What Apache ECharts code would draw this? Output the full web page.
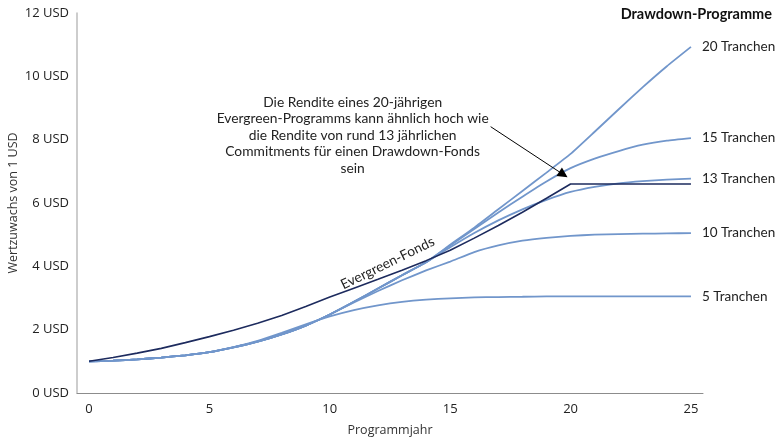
<!DOCTYPE html>
<html>
<head>
<meta charset="utf-8">
<script src="https://cdn.jsdelivr.net/npm/echarts@6/dist/echarts.min.js"></script>
<style>html,body{margin:0;padding:0;background:#fff}#c{width:780px;height:440px}</style>
</head>
<body>
<div id="c"></div>
<script>
const years = [0,1,2,3,4,5,6,7,8,9,10,11,12,13,14,15,16,17,18,19,20,21,22,23,24,25];
const evergreen = [1.00,1.12,1.26,1.41,1.59,1.78,1.98,2.20,2.45,2.73,3.03,3.31,3.59,3.88,4.18,4.51,4.89,5.29,5.71,6.15,6.60,6.60,6.60,6.60,6.60,6.60];
const t5  = [1.00,1.02,1.06,1.12,1.19,1.29,1.45,1.65,1.90,2.17,2.42,2.62,2.77,2.88,2.95,2.99,3.02,3.03,3.04,3.05,3.05,3.05,3.05,3.05,3.05,3.05];
const t10 = [1.00,1.02,1.06,1.12,1.19,1.29,1.44,1.62,1.85,2.13,2.48,2.86,3.22,3.56,3.87,4.15,4.45,4.66,4.81,4.90,4.96,5.00,5.02,5.03,5.04,5.05];
const t13 = [1.00,1.02,1.06,1.12,1.19,1.29,1.44,1.62,1.85,2.13,2.48,2.88,3.30,3.72,4.13,4.60,5.05,5.45,5.80,6.10,6.35,6.51,6.62,6.69,6.74,6.77];
const t15 = [1.00,1.02,1.06,1.12,1.19,1.29,1.44,1.62,1.85,2.13,2.48,2.88,3.30,3.72,4.13,4.66,5.18,5.70,6.20,6.68,7.10,7.40,7.64,7.84,7.97,8.05];
const t20 = [1.00,1.02,1.06,1.12,1.19,1.29,1.44,1.62,1.85,2.13,2.48,2.88,3.30,3.72,4.13,4.68,5.22,5.80,6.38,6.96,7.55,8.25,8.96,9.66,10.32,10.93];
const xTicks = [0,5,10,15,20,25];
const tranchen = [
  {name:'5 Tranchen', data:t5},
  {name:'10 Tranchen', data:t10},
  {name:'13 Tranchen', data:t13},
  {name:'15 Tranchen', data:t15},
  {name:'20 Tranchen', data:t20}
];
const titleText = 'Drawdown-Programme';
const noteText = 'Die Rendite eines 20-jährigen\nEvergreen-Programms kann ähnlich hoch wie\ndie Rendite von rund 13 jährlichen\nCommitments für einen Drawdown-Fonds\nsein';
const noteAt = [10.95, 8.14];
const arrowFrom = [16.68, 8.41];
const arrowTo = [19.70, 6.90];
const evergreenLabelAt = [12.4, 4.1];

const pair = arr => years.map((y,i)=>[y,arr[i]]);
const LIGHT = '#7196cb';
const NAVY = '#1d2b5e';
const textFont = 'Lato';
const axisFont = 'Open Sans';

const series = tranchen.map(t => ({
  name: t.name, type:'line', data: pair(t.data), showSymbol:false, smooth:0.15,
  lineStyle:{color:LIGHT, width:1.8}, itemStyle:{color:LIGHT},
  endLabel:{show:true, formatter:t.name, distance:11, color:'#222', fontFamily:textFont, fontSize:13.5},
  z:2
}));
series.push({
  name:'Evergreen-Fonds', type:'line', data: pair(evergreen), showSymbol:false,
  lineStyle:{color:NAVY, width:1.6}, itemStyle:{color:NAVY}, z:3,
  markLine:{
    silent:true, symbol:['none','triangle'], symbolSize:10,
    itemStyle:{color:'#000'},
    lineStyle:{color:'#000', width:1, type:'solid'}, label:{show:false},
    data:[[{coord:arrowFrom},{coord:arrowTo}]]
  },
  markPoint:{
    silent:true, symbol:'circle', symbolSize:1, itemStyle:{color:'rgba(0,0,0,0)'},
    data:[
      {coord:noteAt, label:{show:true, position:'inside', formatter:noteText, align:'center', verticalAlign:'middle',
        lineHeight:16.5, fontSize:13.8, fontFamily:textFont, color:'#222'}},
      {coord:evergreenLabelAt, label:{show:true, position:'inside', formatter:'Evergreen-Fonds', rotate:26,
        align:'center', verticalAlign:'middle', fontSize:13.8, fontFamily:textFont, color:'#222'}}
    ]
  }
});

const chart = echarts.init(document.getElementById('c'), null, {renderer:'canvas'});
chart.setOption({
  animation:false,
  title:{text:titleText, right:3, top:2, textStyle:{fontFamily:textFont, fontWeight:'bold', fontSize:14.5, color:'#111'}},
  grid:{left:77, right:77, top:13, bottom:47, outerBoundsMode:'none', containLabel:false},
  xAxis:{
    type:'value', min:-0.5, max:25.5,
    name:'Programmjahr', nameLocation:'middle', nameGap:31, nameMoveOverlap:false,
    nameTextStyle:{fontFamily:axisFont, fontSize:12.5, color:'#333'},
    axisLine:{show:true, onZero:false, lineStyle:{color:'#8c8c8c', width:1}},
    axisTick:{show:false},
    splitLine:{show:false},
    axisLabel:{customValues:xTicks, fontFamily:axisFont, fontSize:13, color:'#222', margin:10}
  },
  yAxis:{
    type:'value', min:0, max:12, interval:2,
    name:'Wertzuwachs von 1 USD', nameLocation:'middle', nameGap:57, nameMoveOverlap:false,
    nameTextStyle:{fontFamily:axisFont, fontSize:12.5, color:'#333'},
    axisLine:{show:true, onZero:false, lineStyle:{color:'#bdbdbd', width:1.5}},
    axisTick:{show:false},
    splitLine:{show:false},
    axisLabel:{formatter:v=>v+' USD', fontFamily:axisFont, fontSize:13, color:'#222', margin:8}
  },
  series: series
});
</script>
</body>
</html>
